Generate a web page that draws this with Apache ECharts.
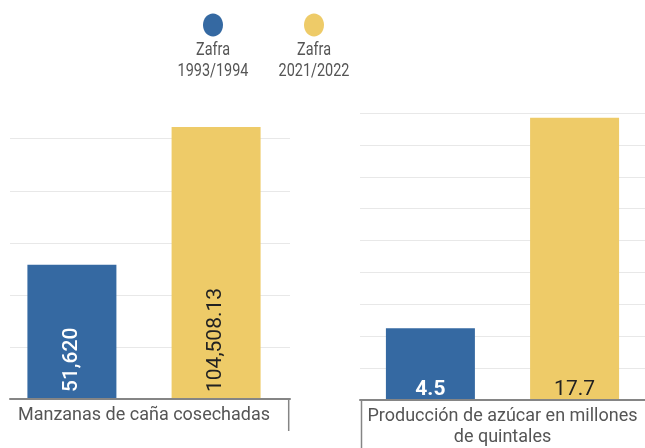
<!DOCTYPE html>
<html>
<head>
<meta charset="utf-8">
<script src="https://cdn.jsdelivr.net/npm/echarts@6/dist/echarts.min.js"></script>
<style>
html,body{margin:0;padding:0;background:#fff;}
#c{width:645px;height:448px;}
</style>
</head>
<body>
<div id="c"></div>
<script>
// ---- data ----
const seriesNames = ['Zafra\n1993/1994', 'Zafra\n2021/2022'];
const seriesColors = ['#3569a2', '#eecb68'];
const leftCategory = ['Manzanas de caña cosechadas'];
const leftValues = [51620, 104508.13];
const leftLabels = ['51,620', '104,508.13'];
const rightCategory = ['Producción de azúcar en millones\nde quintales'];
const rightValues = [4.5, 17.7];
const rightLabels = ['4.5', '17.7'];
const leftInterval = 20000;
const rightMax = 18;
const rightInterval = 2;

const chart = echarts.init(document.getElementById('c'), null, {renderer: 'canvas'});
const FONT = 'Roboto, "Noto Sans", sans-serif';
const leftMax = Math.max(...leftValues);

const gridStyle = {show: true, lineStyle: {color: '#e8e8e8', width: 1.2}, showMaxLine: false};
const axisLineStyle = {show: true, lineStyle: {color: '#858585', width: 2}};

function barSeries(values, labels, idx, xi, yi, rotated) {
  return {
    type: 'bar',
    name: seriesNames[idx],
    xAxisIndex: xi, yAxisIndex: yi,
    data: [values[idx]],
    barWidth: 89,
    barGap: '62%',
    itemStyle: {color: seriesColors[idx]},
    z: 2,
    label: rotated ? {
      show: true,
      position: 'insideBottom',
      rotate: 90,
      align: 'left',
      verticalAlign: 'middle',
      distance: 7,
      formatter: () => labels[idx],
      color: idx === 0 ? '#ffffff' : '#222222',
      fontFamily: FONT,
      fontSize: 21,
      fontWeight: idx === 0 ? 500 : 'normal'
    } : {
      show: true,
      position: 'insideBottom',
      distance: 0,
      formatter: () => labels[idx],
      color: idx === 0 ? '#ffffff' : '#222222',
      fontFamily: FONT,
      fontSize: 21,
      fontWeight: idx === 0 ? 'bold' : 'normal'
    }
  };
}

const legendGraphics = [];
const legendX = [213, 314];
seriesNames.forEach((n, i) => {
  legendGraphics.push({
    type: 'ellipse', shape: {cx: legendX[i], cy: 25, rx: 10, ry: 11.5},
    style: {fill: seriesColors[i]}
  });
  legendGraphics.push({
    type: 'text', x: legendX[i], y: 39.5, scaleX: 0.76,
    style: {text: n, fill: '#555', font: '19px ' + FONT, textAlign: 'center', textVerticalAlign: 'top', lineHeight: 21}
  });
});

const option = {
  animation: false,
  backgroundColor: '#ffffff',
  grid: [
    {left: 10, width: 280, top: 127, height: 272},
    {left: 10, width: 268, top: 127, height: 272},
    {left: 360, width: 290, top: 113, height: 287}
  ],
  xAxis: [
    {type: 'category', gridIndex: 0, data: [''], axisLine: axisLineStyle, axisTick: {show: false}, axisLabel: {show: false}, z: 5},
    {type: 'category', gridIndex: 1, data: leftCategory, axisLine: {show: false}, axisTick: {show: false},
      axisLabel: {color: '#555', fontFamily: FONT, fontSize: 18, margin: 7}},
    {type: 'category', gridIndex: 2, data: rightCategory, axisLine: axisLineStyle, axisTick: {show: false}, z: 5,
      axisLabel: {color: '#555', fontFamily: FONT, fontSize: 18, margin: 6, lineHeight: 21}}
  ],
  yAxis: [
    {type: 'value', gridIndex: 0, min: 0, max: leftMax, interval: leftInterval, splitLine: gridStyle,
      axisLabel: {show: false}, axisLine: {show: false}, axisTick: {show: false}},
    {type: 'value', gridIndex: 1, min: 0, max: leftMax, interval: leftInterval, splitLine: {show: false},
      axisLabel: {show: false}, axisLine: {show: false}, axisTick: {show: false}},
    {type: 'value', gridIndex: 2, min: 0, max: rightMax, interval: rightInterval, splitLine: {show: true, lineStyle: {color: '#e8e8e8', width: 1.2}},
      axisLabel: {show: false}, axisLine: {show: false}, axisTick: {show: false}}
  ],
  series: [
    barSeries(leftValues, leftLabels, 0, 1, 1, true),
    barSeries(leftValues, leftLabels, 1, 1, 1, true),
    barSeries(rightValues, rightLabels, 0, 2, 2, false),
    barSeries(rightValues, rightLabels, 1, 2, 2, false)
  ],
  graphic: legendGraphics.concat([
    {type: 'line', shape: {x1: 288.7, y1: 399, x2: 288.7, y2: 431}, style: {stroke: '#858585', lineWidth: 1.5}},
    {type: 'line', shape: {x1: 361.5, y1: 400, x2: 361.5, y2: 448}, style: {stroke: '#858585', lineWidth: 1.5}}
  ])
};
chart.setOption(option);
</script>
</body>
</html>
